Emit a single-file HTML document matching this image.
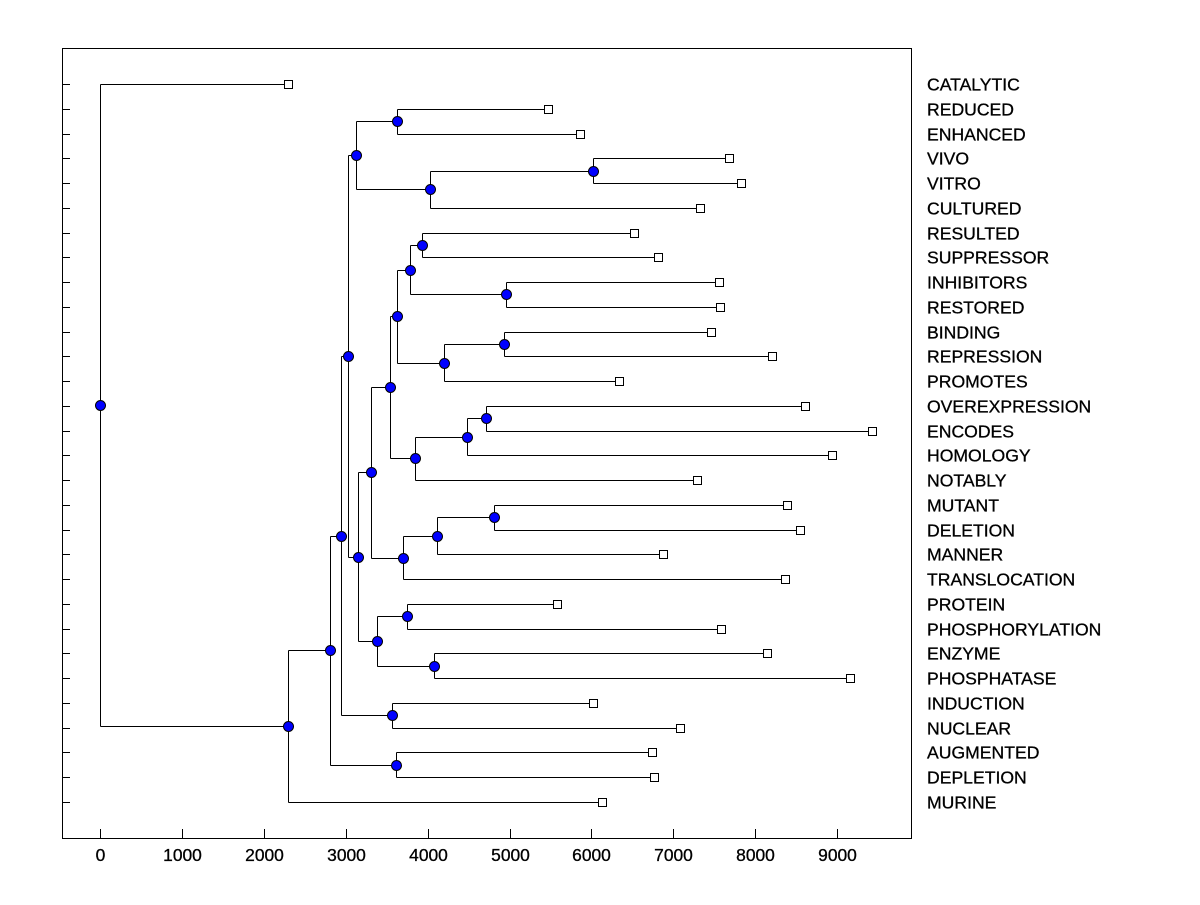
<!DOCTYPE html>
<html><head><meta charset="utf-8"><style>
body{margin:0;background:#fff}
svg text{font-family:"Liberation Sans",Arial,sans-serif;fill:#000}
</style></head><body>
<svg id="chart" width="1200" height="900" xmlns="http://www.w3.org/2000/svg"></svg>
<script>
const labels=["CATALYTIC","REDUCED","ENHANCED","VIVO","VITRO","CULTURED","RESULTED","SUPPRESSOR","INHIBITORS","RESTORED","BINDING","REPRESSION","PROMOTES","OVEREXPRESSION","ENCODES","HOMOLOGY","NOTABLY","MUTANT","DELETION","MANNER","TRANSLOCATION","PROTEIN","PHOSPHORYLATION","ENZYME","PHOSPHATASE","INDUCTION","NUCLEAR","AUGMENTED","DEPLETION","MURINE"];
const leafValues=[2295,5470,5860,7680,7826,7326,6520,6813,7558,7570,7460,8205,6337,8608,9426,8938,7289,8388,8547,6874,8364,5580,7582,8144,9158,6020,7082,6740,6764,6130];
const nodeNames=["redEnh","vivoVitro","vvCult","top","resSup","inhRes","a","bindRep","b","c","overEnc","d","e","f","mutDel","g","h","i","protPhos","enzPhos","j","k","l","indNuc","m","augDep","n","o","root"];
const nodeValues=[3626,6020,4029,3126,3932,4957,3785,4933,4200,3626,4713,4481,3846,3541,4811,4115,3700,3309,3748,4078,3382,3150,3028,3565,2943,3614,2808,2295,0];
const nodeChildren=[["REDUCED","ENHANCED"],["VIVO","VITRO"],["vivoVitro","CULTURED"],["redEnh","vvCult"],["RESULTED","SUPPRESSOR"],["INHIBITORS","RESTORED"],["resSup","inhRes"],["BINDING","REPRESSION"],["bindRep","PROMOTES"],["a","b"],["OVEREXPRESSION","ENCODES"],["overEnc","HOMOLOGY"],["d","NOTABLY"],["c","e"],["MUTANT","DELETION"],["mutDel","MANNER"],["g","TRANSLOCATION"],["f","h"],["PROTEIN","PHOSPHORYLATION"],["ENZYME","PHOSPHATASE"],["protPhos","enzPhos"],["i","j"],["top","k"],["INDUCTION","NUCLEAR"],["l","indNuc"],["AUGMENTED","DEPLETION"],["m","augDep"],["n","MURINE"],["CATALYTIC","o"]];
const xTicks=[0,1000,2000,3000,4000,5000,6000,7000,8000,9000];

const svg=document.getElementById('chart');const NS='http://www.w3.org/2000/svg';
const L=62,R=911,T=48,B=838;
const xs=v=>100+v*0.0819;
const ys=i=>84+i*(802-84)/(labels.length-1);
function mk(tag,attrs,parent){const e=document.createElementNS(NS,tag);for(const k in attrs)e.setAttribute(k,attrs[k]);(parent||svg).appendChild(e);return e;}
const frame=mk('rect',{x:L+0.5,y:T+0.5,width:R-L,height:B-T,fill:'none',stroke:'#000'});


const pos={};
labels.forEach((l,i)=>{pos[l]={x:xs(leafValues[i]),y:ys(i)};});
nodeNames.forEach((n,k)=>{const c=nodeChildren[k];pos[n]={x:xs(nodeValues[k]),y:(pos[c[0]].y+pos[c[1]].y)/2};});
const g=mk('g',{stroke:'#000','stroke-width':1,fill:'none'});


nodeNames.forEach((n,k)=>{const p=pos[n];const c=nodeChildren[k];const a=pos[c[0]],b=pos[c[1]];
 const x=Math.round(p.x)+0.5;
 mk('path',{d:`M${x},${Math.round(a.y)+0.5}V${Math.round(b.y)+0.5}M${x},${Math.round(a.y)+0.5}H${Math.round(a.x)}M${x},${Math.round(b.y)+0.5}H${Math.round(b.x)}`},g);});
labels.forEach((l,i)=>{const y=Math.round(ys(i))+0.5;
 mk('line',{x1:L,x2:L+8,y1:y,y2:y,stroke:'#000'});
 const t=mk('text',{x:927,y:y+6,'font-size':17.6,'stroke':'#000','stroke-width':0.3});t.textContent=l;
 
 
 const p=pos[l];const s=mk('rect',{x:Math.round(p.x)-3.5,y:y-4,width:8,height:8,fill:'#fff',stroke:'#000'});
 
 });
nodeNames.forEach(n=>{const p=pos[n];const c=mk('circle',{cx:Math.round(p.x)+0.5,cy:Math.round(p.y)+0.5,r:5,fill:'#0000ff',stroke:'#000'});
 
 });
xTicks.forEach(v=>{const x=Math.round(xs(v))+0.5;
 mk('line',{x1:x,x2:x,y1:B,y2:B-9,stroke:'#000'});
 const t=mk('text',{x:x,y:861,'font-size':17.4,'text-anchor':'middle','stroke':'#000','stroke-width':0.3});t.textContent=v;
 
 });
</script>
</body></html>
